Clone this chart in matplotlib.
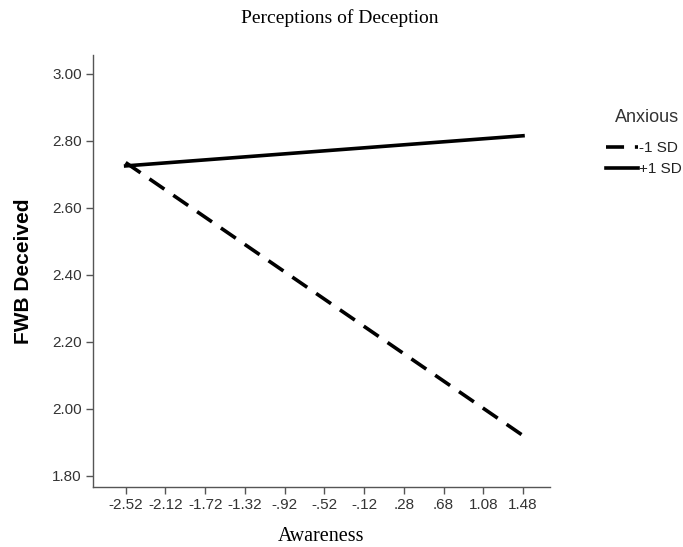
import matplotlib
matplotlib.use("Agg")
import matplotlib.pyplot as plt

# Datos del gráfico
awareness = [-2.52, 1.48]
minus_1sd = [2.735, 1.92]
plus_1sd = [2.725, 2.815]
x_ticks = [-2.52, -2.12, -1.72, -1.32, -0.92, -0.52, -0.12, 0.28, 0.68, 1.08, 1.48]
x_tick_labels = ["-2.52", "-2.12", "-1.72", "-1.32", "-.92", "-.52", "-.12", ".28", ".68", "1.08", "1.48"]
y_ticks = [1.80, 2.00, 2.20, 2.40, 2.60, 2.80, 3.00]

fig = plt.figure(figsize=(6.83, 5.47), dpi=100)
ax = fig.add_axes([0.136, 0.11, 0.669, 0.79])

ax.plot(awareness, minus_1sd, color="black", linewidth=2.6, linestyle=(0, (5, 3)), label="-1 SD")
ax.plot(awareness, plus_1sd, color="black", linewidth=2.6, linestyle="-", label="+1 SD")

ax.set_xlim(-2.85, 1.75)
ax.set_ylim(1.767, 3.057)
ax.set_xticks(x_ticks)
ax.set_xticklabels(x_tick_labels)
ax.set_yticks(y_ticks)
ax.set_yticklabels([f"{v:.2f}" for v in y_ticks])

for side in ["top", "right"]:
    ax.spines[side].set_visible(False)
for side in ["left", "bottom"]:
    ax.spines[side].set_color("#555555")
    ax.spines[side].set_linewidth(1.0)
ax.tick_params(direction="out", length=5, width=1, color="#555555",
               labelsize=11, labelcolor="#333333", pad=3)
for lab in ax.get_xticklabels() + ax.get_yticklabels():
    lab.set_family("Liberation Sans")

fig.text(340 / 683, 1 - 18 / 547, "Perceptions of Deception", family="Liberation Serif",
         fontsize=14, ha="center", va="center")
ax.set_xlabel("Awareness", family="Liberation Serif", fontsize=14.5, labelpad=11)
ax.set_ylabel("FWB Deceived", family="Liberation Sans", fontsize=15, fontweight="bold", labelpad=14)

# Leyenda: título aparte para controlar la posición
fig.text(679 / 683, 1 - 117 / 547, "Anxious", family="Liberation Sans", fontsize=13,
         color="#333333", ha="right", va="center")
leg = fig.legend(loc="upper right", bbox_to_anchor=(682 / 683, 1 - 141 / 547),
                 frameon=False, handlelength=2.1, handletextpad=0.05, labelspacing=0.45,
                 borderaxespad=0.0, borderpad=0.0, prop={"family": "Liberation Sans", "size": 11})
for t in leg.get_texts():
    t.set_color("#222222")

fig.savefig("out.png", dpi=100)
